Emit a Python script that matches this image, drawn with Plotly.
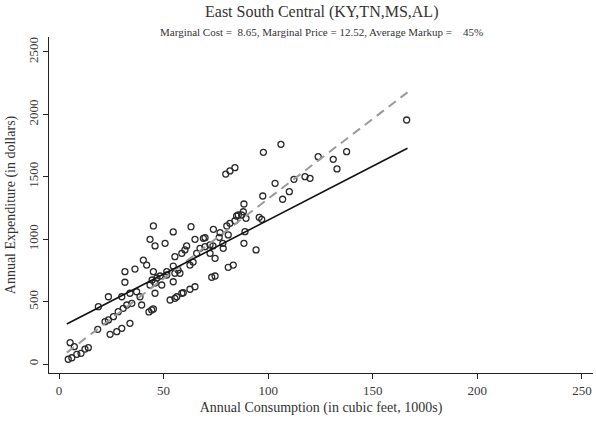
import plotly.graph_objects as go

# Household observations: annual consumption (1000s cubic feet) and annual expenditure ($)
consumption = [
    4.4, 6.1, 8.5, 10.5, 14.0, 12.4, 5.3, 7.3, 18.5, 22.0, 23.6, 24.4, 27.6, 30.0, 33.9,
    26.0, 28.3, 30.7, 32.4, 34.8, 18.8, 23.6, 30.0, 33.9, 37.1, 38.7, 39.5, 44.3, 43.0, 45.1,
    31.5, 36.3, 31.5, 40.3, 41.9, 45.1, 44.5, 45.9, 43.5, 46.8, 49.1, 51.5, 54.6, 55.4, 54.6,
    57.8, 53.1, 55.4, 58.7, 45.9, 55.4, 58.7, 45.1, 54.6, 63.1, 43.5, 45.9, 50.7, 60.2, 61.0,
    65.0, 69.0, 73.8, 77.0, 80.2, 81.7, 84.9, 87.3, 88.4, 88.9, 88.4, 78.5, 69.8, 67.4, 65.8,
    72.2, 74.6, 62.6, 64.1, 74.6, 73.0, 80.9, 83.3, 65.0, 62.6, 59.4, 56.3, 56.9, 51.5, 48.3,
    106.1, 97.7, 84.1, 81.7, 79.7, 123.9, 112.3, 117.6, 120.0, 103.3, 110.1, 106.9, 97.4,
    88.1, 85.7, 89.4, 84.1, 95.7, 96.9, 69.8, 76.6, 80.9, 78.3, 72.2, 73.6, 94.2, 131.1,
    137.5, 132.9, 166.2,
]
expenditure = [
    38, 50, 78, 86, 131, 120, 171, 139, 278, 339, 353, 238, 259, 286, 326,
    379, 419, 446, 473, 486, 459, 539, 539, 567, 579, 539, 473, 433, 417, 441,
    655, 761, 740, 833, 793, 740, 673, 649, 633, 689, 633, 713, 785, 727, 659,
    727, 513, 526, 567, 567, 860, 887, 1106, 1058, 1100, 999, 946, 967, 914, 946,
    999, 1007, 1079, 1052, 1106, 1127, 1186, 1194, 1282, 1060, 967, 927, 940, 927, 887,
    887, 847, 793, 817, 705, 695, 775, 793, 619, 599, 571, 539, 753, 740, 705,
    1760, 1696, 1573, 1547, 1522, 1661, 1480, 1501, 1488, 1448, 1381, 1320, 1346,
    1220, 1194, 1167, 1148, 1175, 1159, 1012, 1015, 1034, 967, 954, 946, 914, 1640,
    1701, 1563, 1955,
]

# Fitted lines over the observed consumption span
fit_x = [3.7, 166.6]
cost_intercept, cost_slope = 288.0, 8.65      # solid line
price_intercept, price_slope = 44.0, 12.8     # dashed line

x_ticks = [0, 50, 100, 150, 200, 250]
y_ticks = [0, 500, 1000, 1500, 2000, 2500]

serif = "Liberation Serif"
ink = "#222222"

fig = go.Figure()

fig.add_trace(go.Scatter(
    x=consumption, y=expenditure, mode="markers",
    marker=dict(symbol="circle-open", size=6, color="#2a2a2a", line=dict(width=1.3)),
    showlegend=False, hoverinfo="skip",
))

fig.add_trace(go.Scatter(
    x=fit_x, y=[price_intercept + price_slope * v for v in fit_x], mode="lines",
    line=dict(color="#9a9a9a", width=2, dash="9px,6px"),
    showlegend=False, hoverinfo="skip",
))

fig.add_trace(go.Scatter(
    x=fit_x, y=[cost_intercept + cost_slope * v for v in fit_x], mode="lines",
    line=dict(color="#111111", width=1.6),
    showlegend=False, hoverinfo="skip",
))

axis_common = dict(
    showgrid=False, zeroline=False, showline=True, linecolor=ink, linewidth=1,
    ticks="outside", ticklen=5, tickcolor=ink, tickwidth=1,
    tickfont=dict(family=serif, size=13, color="#3a3a3a"),
    title_font=dict(family=serif, size=14, color="#333333"),
)

fig.update_layout(
    width=596, height=424,
    margin=dict(l=49, r=3, t=37, b=51),
    paper_bgcolor="white", plot_bgcolor="white",
    xaxis=dict(
        range=[-4.8, 255.3], tickvals=x_ticks, ticktext=[str(v) for v in x_ticks],
        title=dict(text="Annual Consumption (in cubic feet, 1000s)", standoff=5),
        **axis_common,
    ),
    yaxis=dict(
        range=[-72, 2620], tickvals=y_ticks, ticktext=[str(v) for v in y_ticks],
        tickangle=-90,
        title=dict(text="Annual Expenditure (in dollars)", standoff=6),
        **axis_common,
    ),
)

# title lines placed by pixel offsets from the top of the figure
plot_h = 424 - 37 - 51
fig.add_annotation(
    text="East South Central (KY,TN,MS,AL)", x=0.5, xanchor="center",
    y=1 + (37 - 12) / plot_h, yanchor="middle", xref="paper", yref="paper",
    showarrow=False, font=dict(family=serif, size=16, color="#333333"),
)
fig.add_annotation(
    text="Marginal Cost =  8.65, Marginal Price = 12.52, Average Markup =    45%",
    x=0.5, xanchor="center", y=1 + (37 - 32) / plot_h, yanchor="middle",
    xref="paper", yref="paper", showarrow=False,
    font=dict(family=serif, size=11, color="#333333"),
)

fig.write_html("out.html")
